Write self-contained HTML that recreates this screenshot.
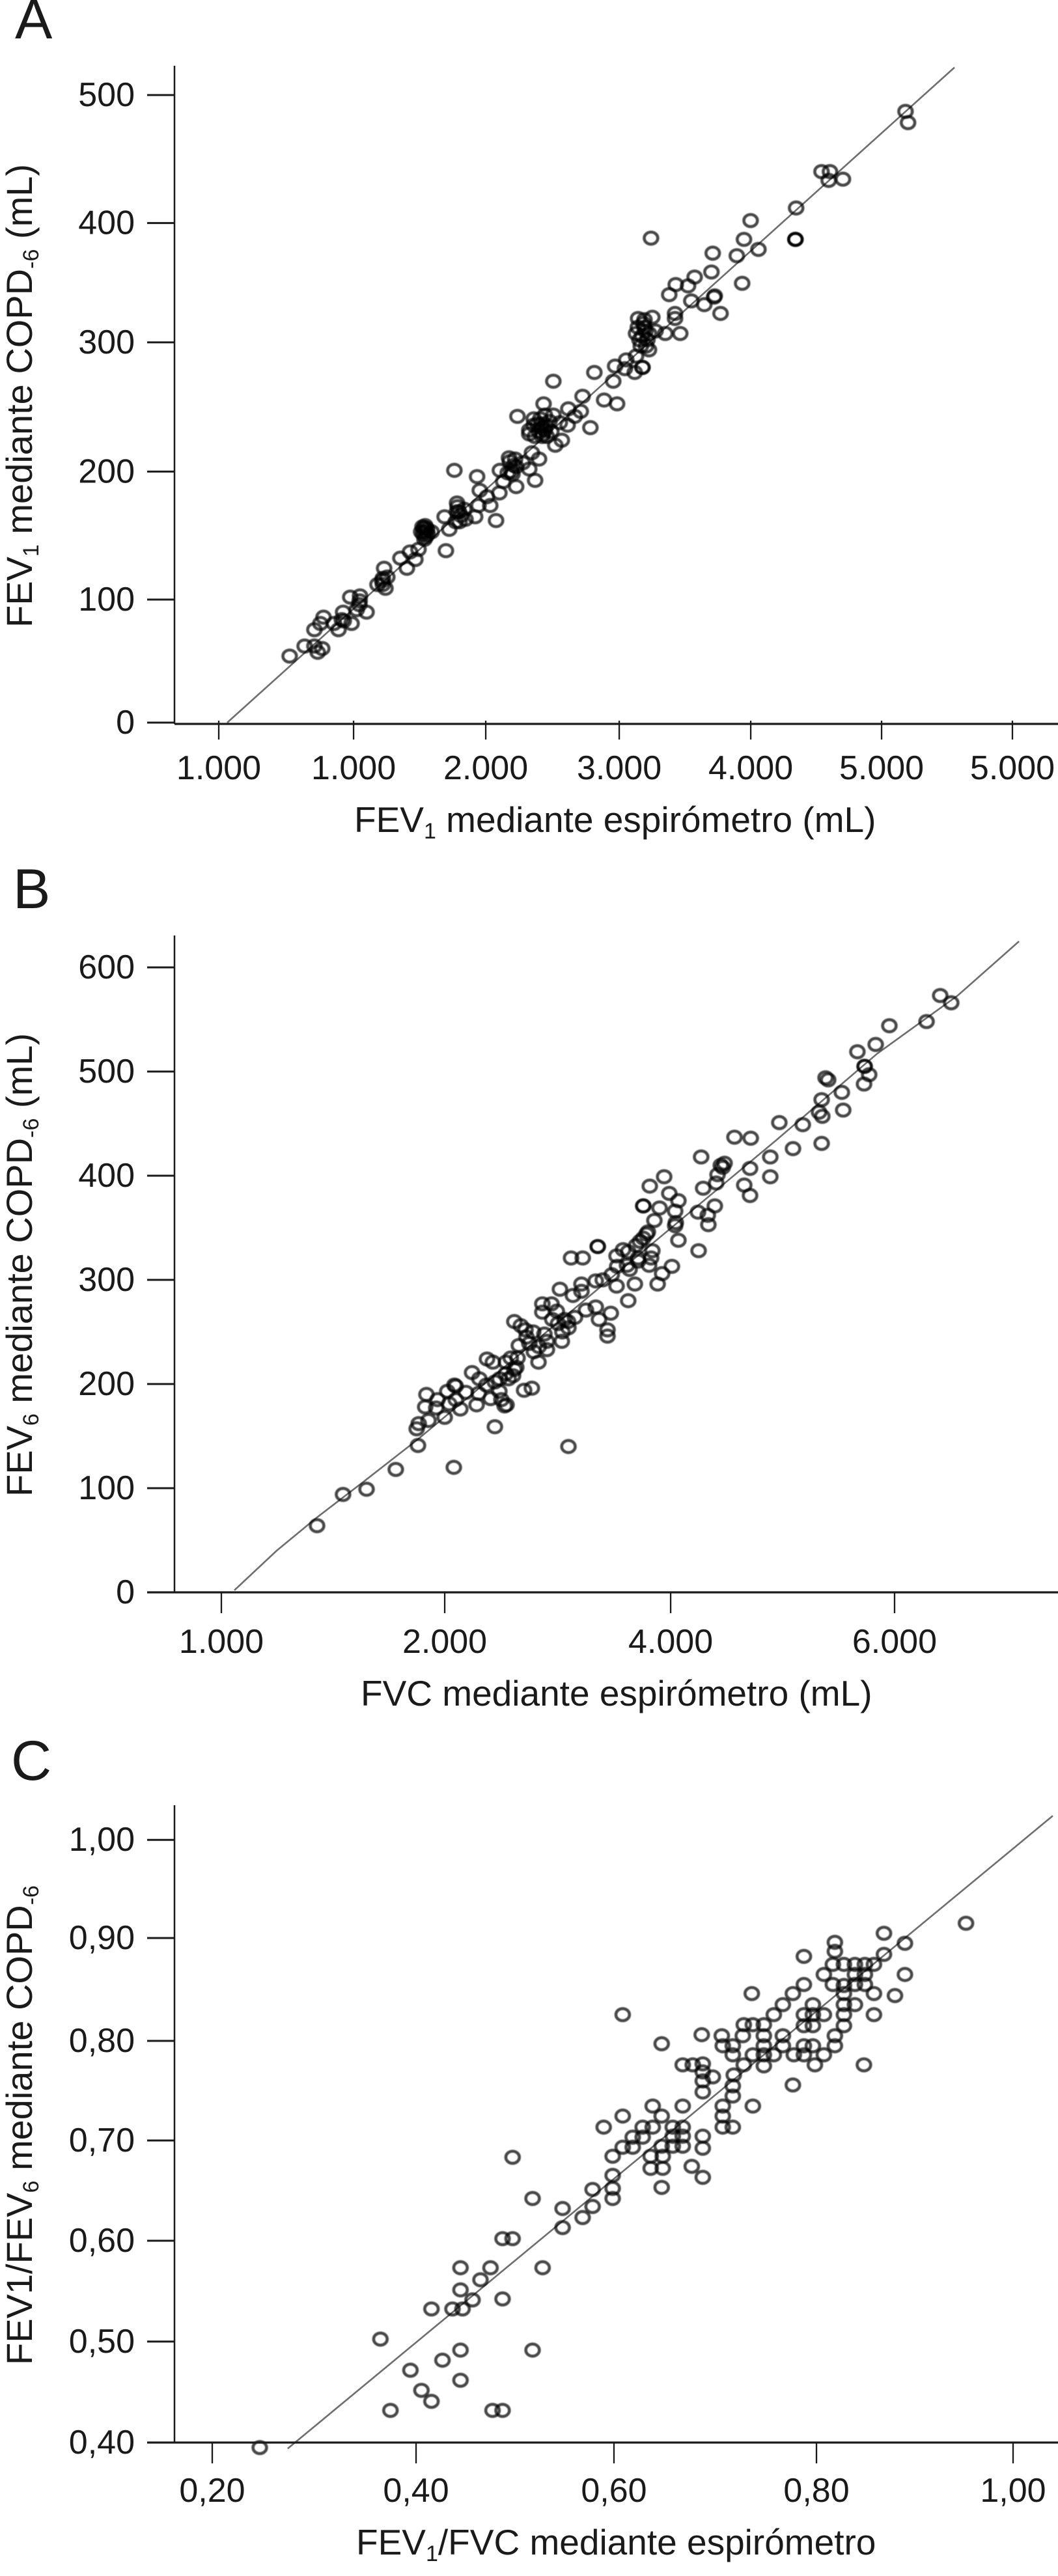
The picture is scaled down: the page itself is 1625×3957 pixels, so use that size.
<!DOCTYPE html>
<html lang="es">
<head>
<meta charset="utf-8">
<title>Comparación COPD-6 y espirómetro</title>
<style>
html,body{margin:0;padding:0;background:#fff;}
svg{display:block;}
text{font-family:"Liberation Sans",sans-serif;fill:#1a1a1a;}
.tick-label{font-size:52px;}
.axis-title{font-size:55px;}
.y-title{font-size:56px;}
.panel-letter{font-size:86px;}
.marks{filter:blur(0.7px);}
</style>
</head>
<body>
<svg id="figure" xmlns="http://www.w3.org/2000/svg" width="1625" height="3957" viewBox="0 0 1625 3957">
  <rect width="1625" height="3957" fill="#fff"/>

  <g id="panel-a">
    <text class="panel-letter" x="23" y="59">A</text>
    <text class="y-title" transform="translate(49 964) rotate(-90)">FEV<tspan font-size="34" dy="10">1</tspan><tspan dy="-10"> mediante COPD</tspan><tspan font-size="34" dy="10">-6</tspan><tspan dy="-10"> (mL)</tspan></text>
    <text class="axis-title" x="544" y="1278">FEV<tspan font-size="34" dy="10">1</tspan><tspan dy="-10"> mediante espirómetro (mL)</tspan></text>
  </g>

  <g id="panel-b">
    <text class="panel-letter" x="20" y="1395">B</text>
    <text class="y-title" transform="translate(49 2299) rotate(-90)">FEV<tspan font-size="34" dy="10">6</tspan><tspan dy="-10"> mediante COPD</tspan><tspan font-size="34" dy="10">-6</tspan><tspan dy="-10"> (mL)</tspan></text>
    <text class="axis-title" x="554" y="2620">FVC mediante espirómetro (mL)</text>
  </g>

  <g id="panel-c">
    <text class="panel-letter" x="17" y="2734">C</text>
    <text class="y-title" transform="translate(49 3633) rotate(-90)">FEV1/FEV<tspan font-size="34" dy="10">6</tspan><tspan dy="-10"> mediante COPD</tspan><tspan font-size="34" dy="10">-6</tspan></text>
    <text class="axis-title" x="547" y="3924">FEV<tspan font-size="34" dy="10">1</tspan><tspan dy="-10">/FVC mediante espirómetro</tspan></text>
  </g>
</svg>

<script>
// ---------- Panel A data ----------
const aXTickValues = [0, 1019, 2018, 3027, 4021, 5010, 5999];
const aXTickLabels = ["1.000", "1.000", "2.000", "3.000", "4.000", "5.000", "5.000"];
const aYTickValues = [0, 98, 200, 303, 398, 500];
const aYTickLabels = ["0", "100", "200", "300", "400", "500"];
const aFitX = [64, 5561];
const aFitY = [0, 522];
const aFev1Spirometer = [
536,649,723,748,782,723,792,768,905,871,
940,945,1004,994,1068,1063,1117,1043,1250,1235,
1260,1200,1274,1373,1422,1446,1486,1510,1560,1530,
1579,1609,1555,1707,1742,1717,1781,1801,1815,1855,
1791,1865,1938,1963,2052,2096,1953,1973,2027,2121,
2125,2194,2184,2248,2298,2248,2391,2421,2367,2347,
2258,2347,2465,2529,2381,2445,2514,2578,2637,2544,
2593,2642,2455,2381,2465,2347,2445,2691,2736,2750,
2913,3011,2809,2529,2839,2982,2996,3080,3144,3070,
3154,3203,3203,3252,3267,3154,3218,3277,3218,3168,
3301,3252,3375,3488,3449,3449,3405,3454,3547,3597,
3724,3734,3956,3572,3670,3749,3744,3793,3916,3970,
4079,4020,4359,4359,4359,4364,4556,4620,4610,4718,
5191,5210,1545,1570,1550,1800,1830,2440,2500,2420,
2480,2210,2230,3180,3200,3230,1065,1240,1240,930,
1555,1565,1540,1575,1805,1820,2410,2430,2450,2470,
2390,3190,3210,3225,3240,3170,2150,2200,2220,2240
];
const aFev1Copd = [
53,61,61,56,59,74,84,79,74,79,
88,81,79,100,101,94,88,90,123,113,
107,110,116,131,123,136,130,138,157,152,
150,152,146,164,154,137,201,175,168,170,
160,162,164,173,173,161,196,185,180,183,
201,211,199,204,207,188,193,210,215,202,
244,233,245,245,242,235,232,239,237,221,
225,250,254,237,233,230,228,244,248,260,
257,254,235,272,279,272,284,289,279,282,
292,283,283,297,386,310,315,323,321,315,
312,310,310,310,326,322,341,349,348,355,
359,374,350,336,333,340,339,326,372,385,
377,400,385,385,385,410,439,439,432,433,
487,478,150,155,155,168,165,238,240,232,
228,200,205,305,308,300,97,110,115,82,
152,148,156,153,172,160,238,242,230,236,
228,300,318,312,305,322,192,208,198,210
];

// ---------- Panel B data ----------
const bXTickValues = [0, 1991, 4005, 6001];
const bXTickLabels = ["1.000", "2.000", "4.000", "6.000"];
const bYTickValues = [0, 100, 200, 300, 400, 500, 600];
const bYTickLabels = ["0", "100", "200", "300", "400", "500", "600"];
const bFitX = [116, 493, 853, 1277, 1753, 4945, 5844, 6564, 7110];
const bFitY = [2, 40, 72, 107, 147, 434, 517, 573, 625];
const bFvcSpirometer = [
853,1085,1294,1555,2072,1753,2438,3094,1741,1759,
1846,1991,1817,1828,1915,1927,2031,2014,2078,2089,
2275,2293,2235,2362,2438,2478,2496,2525,2542,2699,
2768,2368,2420,2536,2629,2536,2612,2612,2670,2711,
2652,2745,2827,2786,2902,2902,2861,2861,2943,3001,
3059,3018,3134,3210,3337,3210,3035,3094,3152,3250,
3337,3366,3471,3442,3442,3117,3221,3355,3355,3523,
3686,3627,3889,3929,4016,3523,3529,3627,3616,3715,
3639,3813,3842,3831,3732,3790,4074,4254,4045,3761,
3802,3697,3581,3715,4341,4336,4399,4249,4051,3860,
4045,4074,3906,3761,3761,3993,3819,3947,4295,4411,
4423,4277,4452,4486,4469,4713,4661,4713,4893,4893,
5096,5351,4574,4719,4974,5183,5351,5328,5357,5543,
5531,5386,5409,5729,5734,5734,5775,5670,5833,5955,
6286,6408,6506,
2560,2640,2720,2780,2830,2880,2950,2990,3040,3090,
2090,2130,2180,2300,2400,2480,2580,2600,3400,3480
];
const bFev6Copd = [
64,94,99,118,120,141,159,140,157,162,
165,168,178,190,177,185,181,193,199,198,
180,191,211,199,202,193,185,179,180,194,
196,224,221,221,216,210,214,260,256,252,
237,239,221,231,233,241,269,277,277,258,
262,291,285,296,299,289,241,254,264,271,
274,262,268,252,246,321,321,332,332,294,
296,280,296,306,313,323,313,327,314,318,
310,314,328,321,337,344,338,328,352,340,
346,333,329,321,353,362,371,365,355,357,
366,376,369,371,371,383,390,399,388,393,
401,418,410,412,408,407,391,381,399,418,
426,431,437,436,451,449,473,461,457,463,
480,494,492,488,505,505,497,519,526,544,
548,573,566,
205,225,245,250,236,248,262,270,250,260,
185,176,192,205,186,205,225,208,300,305
];

// ---------- Panel C data ----------
const cXTickValues = [0.2, 0.4036, 0.6013, 0.8036, 1.0];
const cXTickLabels = ["0,20", "0,40", "0,60", "0,80", "1,00"];
const cYTickValues = [0.4, 0.5005, 0.6009, 0.7007, 0.7999, 0.9023, 1.0];
const cYTickLabels = ["0,40", "0,50", "0,60", "0,70", "0,80", "0,90", "1,00"];
const cFitX = [0.2754, 1.0397];
const cFitY = [0.394, 1.024];
const cRatioSpirometer = [
.50,.52,.55,.57,.58,.55,.58,.60,.60,.60,
.49,.50,.448,.478,.53,.468,.448,.46,.49,.419,
.44,.45,.368,.448,.52,.43,.398,.448,.409,.419,
.378,.48,.49,.2475,.649,.679,.69,.638,.65,.638,
.65,.60,.61,.62,.62,.63,.649,.66,.67,.66,
.67,.67,.66,.69,.69,.63,.64,.61,.591,.64,
.649,.67,.69,.69,.69,.70,.69,.68,.67,.71,
.72,.71,.71,.72,.72,.721,.74,.731,.751,.78,
.851,.802,.649,.689,.61,.739,.709,.71,.72,.72,
.73,.731,.74,.751,.751,.751,.751,.74,.761,.77,
.77,.761,.77,.78,.791,.781,.791,.791,.80,.811,
.791,.80,.791,.80,.811,.80,.822,.822,.831,.831,
.831,.842,.861,.861,.831,.831,.82,.811,.82,.842,
.852,.842,.852,.831,.842,.852,.861,.791,.822,.822,
.871,.892,.871,.892,.882,.953
];
const cRatioCopd = [
.684,.643,.633,.624,.635,.614,.652,.666,.653,.643,
.603,.603,.574,.574,.574,.562,.552,.542,.543,.533,
.533,.533,.503,.492,.492,.482,.472,.462,.452,.441,
.432,.432,.432,.395,.654,.675,.664,.673,.673,.685,
.685,.685,.694,.694,.704,.704,.695,.695,.695,.705,
.705,.714,.714,.705,.693,.714,.714,.725,.714,.735,
.725,.735,.749,.76,.769,.764,.777,.776,.776,.714,
.714,.725,.735,.745,.755,.766,.735,.776,.775,.756,
.776,.776,.797,.806,.826,.847,.805,.795,.795,.786,
.805,.816,.816,.816,.805,.795,.786,.786,.786,.805,
.795,.826,.836,.847,.856,.786,.786,.795,.795,.786,
.815,.815,.826,.836,.826,.826,.805,.795,.815,.826,
.836,.836,.826,.847,.847,.855,.856,.866,.876,.856,
.856,.866,.866,.876,.876,.876,.876,.884,.898,.889,
.907,.897,.886,.866,.845,.917
];

// ---------- Drawing ----------
const SVG_NS = 'http://www.w3.org/2000/svg';
const AXIS_COLOR = '#1a1a1a';

function make(tag, attrs, parent) {
  const el = document.createElementNS(SVG_NS, tag);
  Object.keys(attrs).forEach(function (k) { el.setAttribute(k, attrs[k]); });
  parent.appendChild(el);
  return el;
}

function drawPanel(cfg) {
  const root = document.getElementById(cfg.id);
  const xScale = cfg.xScale;
  const yScale = cfg.yScale;

  // regression line
  const fitPoints = cfg.fitX.map(function (v, i) {
    return xScale(v).toFixed(1) + ',' + yScale(cfg.fitY[i]).toFixed(1);
  }).join(' ');
  const fit = make('polyline', { points: fitPoints, fill: 'none', stroke: '#6e6e6e', 'stroke-width': 2.6, 'stroke-linejoin': 'round' }, root);
  
  

  // points
  const marks = make('g', { class: 'marks' }, root);
  
  
  cfg.seriesX.forEach(function (v, i) {
    const pt = make('ellipse', {
      cx: xScale(v).toFixed(1),
      cy: yScale(cfg.seriesY[i]).toFixed(1),
      rx: 10.4,
      ry: 9.3,
      fill: 'none',
      stroke: '#000',
      'stroke-opacity': 0.72,
      'stroke-width': 4.6
    }, marks);
    
    
  });

  // y axis
  const yAxis = make('line', { x1: 268, x2: 268, y1: cfg.yAxisTop, y2: cfg.xAxisY, stroke: AXIS_COLOR, 'stroke-width': 2.5 }, root);
  
  

  // x axis
  const xAxis = make('line', { x1: cfg.xAxisStart, x2: 1625, y1: cfg.xAxisY, y2: cfg.xAxisY, stroke: AXIS_COLOR, 'stroke-width': 3.2 }, root);
  
  

  // y ticks
  cfg.yTicks.forEach(function (v, i) {
    const py = yScale(v);
    const tick = make('line', { x1: 226, x2: 268, y1: py, y2: py, stroke: AXIS_COLOR, 'stroke-width': 3 }, root);
    
    
    const label = make('text', { class: 'tick-label', x: 207, y: py + 17, 'text-anchor': 'end' }, root);
    label.textContent = cfg.yLabels[i];
    
    
  });

  // x ticks
  cfg.xTicks.forEach(function (v, i) {
    const px = xScale(v);
    const tick = make('line', { x1: px, x2: px, y1: cfg.xTickTop, y2: cfg.xTickBottom, stroke: AXIS_COLOR, 'stroke-width': 2.3 }, root);
    
    
    const label = make('text', { class: 'tick-label', x: px, y: cfg.xLabelY, 'text-anchor': 'middle' }, root);
    label.textContent = cfg.xLabels[i];
    
    
  });
}

drawPanel({
  id: 'panel-a',
  xScale: function (v) { return 336 + v * 0.2032; },
  yScale: function (v) { return 1110 - v * 1.928; },
  seriesX: aFev1Spirometer, seriesY: aFev1Copd,
  fitX: aFitX, fitY: aFitY,
  xTicks: aXTickValues, xLabels: aXTickLabels,
  yTicks: aYTickValues, yLabels: aYTickLabels,
  yAxisTop: 101, xAxisY: 1112, xAxisStart: 268,
  xTickTop: 1107, xTickBottom: 1136, xLabelY: 1197
});

drawPanel({
  id: 'panel-b',
  xScale: function (v) { return 340 + v * 0.1723; },
  yScale: function (v) { return 2446 - v * 1.6; },
  seriesX: bFvcSpirometer, seriesY: bFev6Copd,
  fitX: bFitX, fitY: bFitY,
  xTicks: bXTickValues, xLabels: bXTickLabels,
  yTicks: bYTickValues, yLabels: bYTickLabels,
  yAxisTop: 1437, xAxisY: 2446, xAxisStart: 226,
  xTickTop: 2446, xTickBottom: 2478, xLabelY: 2539
});

drawPanel({
  id: 'panel-c',
  xScale: function (v) { return 326 + (v - 0.2) * 1537.5; },
  yScale: function (v) { return 3752 - (v - 0.4) * 1543; },
  seriesX: cRatioSpirometer, seriesY: cRatioCopd,
  fitX: cFitX, fitY: cFitY,
  xTicks: cXTickValues, xLabels: cXTickLabels,
  yTicks: cYTickValues, yLabels: cYTickLabels,
  yAxisTop: 2773, xAxisY: 3752, xAxisStart: 226,
  xTickTop: 3752, xTickBottom: 3784, xLabelY: 3843
});
</script>
</body>
</html>
